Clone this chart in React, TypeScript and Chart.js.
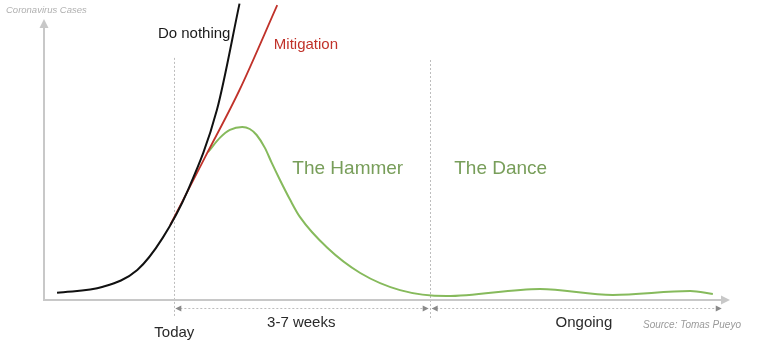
import React, { useEffect, useRef } from "react";
import { Chart, registerables } from "chart.js";

Chart.register(...registerables);

// ---- Data (conceptual units: x 0..100 time, y 0..100 cases) ----
const doNothingX = [1.9, 8.6, 13.6, 17.3, 21.0, 25.2, 28.5];
const doNothingY = [2.4, 4.4, 10.0, 20.7, 36.7, 63.3, 98.8];

const mitigationX = [18.4, 23.5, 28.5, 34.0];
const mitigationY = [25.0, 47.7, 70.0, 98.3];

const hammerDanceX = [23.9, 25.7, 27.1, 28.9, 30.0, 31.0, 32.2, 33.2, 34.4, 35.9, 37.3, 41.3, 46.1, 51.9, 58.7, 72.3, 82.9, 94.2, 97.5];
const hammerDanceY = [49.3, 54.2, 56.7, 57.7, 57.0, 55.0, 50.7, 45.7, 40.0, 33.3, 27.7, 17.4, 9.0, 3.3, 1.3, 3.7, 1.7, 3.0, 2.0];

const seriesNames = ["Do nothing", "Mitigation", "The Hammer / The Dance"];
const phaseLabels = ["The Hammer", "The Dance"];
const periodLabels = ["Today", "3-7 weeks", "Ongoing"];
const yAxisTitle = "Coronavirus Cases";
const sourceText = "Source: Tomas Pueyo";

// phase boundaries (x units)
const todayX = 19.0;
const danceStartX = 56.3;
const ongoingEndX = 98.8;

const BLACK = "#111111";
const RED = "#c0322a";
const GREEN = "#86ba5c";
const GREEN_TEXT = "#789e5a";
const AXIS = "#c8c8c8";
const FONT = "'Liberation Sans', Arial, Helvetica, sans-serif";

export default function App() {
  const ref = useRef<HTMLCanvasElement>(null);

  useEffect(() => {
    if (!ref.current) return;
    const pts = (xs: number[], ys: number[]) => xs.map((x, i) => ({ x, y: ys[i] }));

    const tri = (ctx: CanvasRenderingContext2D, tx: number, ty: number, dir: string, len: number, half: number) => {
      ctx.beginPath();
      if (dir === "up") {
        ctx.moveTo(tx, ty);
        ctx.lineTo(tx - half, ty + len);
        ctx.lineTo(tx + half, ty + len);
      } else if (dir === "right") {
        ctx.moveTo(tx, ty);
        ctx.lineTo(tx - len, ty - half);
        ctx.lineTo(tx - len, ty + half);
      } else {
        ctx.moveTo(tx, ty);
        ctx.lineTo(tx + len, ty - half);
        ctx.lineTo(tx + len, ty + half);
      }
      ctx.closePath();
      ctx.fill();
    };

    const overlay = {
      id: "overlay",
      beforeDatasetsDraw(chart: any) {
        const ctx: CanvasRenderingContext2D = chart.ctx;
        const xs = chart.scales.x;
        const ys = chart.scales.y;
        ctx.save();
        // vertical dashed markers
        ctx.strokeStyle = "#bdbdbd";
        ctx.lineWidth = 1;
        ctx.setLineDash([2, 2]);
        [todayX, danceStartX].forEach((v, i) => {
          const px = Math.round(xs.getPixelForValue(v)) + 0.5;
          ctx.beginPath();
          ctx.moveTo(px, ys.getPixelForValue(i === 0 ? 80.7 : 80));
          ctx.lineTo(px, ys.getPixelForValue(i === 0 ? -5.3 : -6));
          ctx.stroke();
        });
        // period dotted line
        const py = Math.round(ys.getPixelForValue(-2.8)) + 0.5;
        const a = xs.getPixelForValue(todayX);
        const b = xs.getPixelForValue(danceStartX);
        const c = xs.getPixelForValue(ongoingEndX);
        ctx.strokeStyle = "#bdbdbd";
        ctx.beginPath();
        ctx.moveTo(a + 2, py);
        ctx.lineTo(b - 2, py);
        ctx.moveTo(b + 2, py);
        ctx.lineTo(c - 2, py);
        ctx.stroke();
        ctx.setLineDash([]);
        ctx.fillStyle = "#8a8a8a";
        tri(ctx, a + 1, py, "left", 6, 3);
        tri(ctx, b - 1.5, py, "right", 6, 3);
        tri(ctx, b + 1.5, py, "left", 6, 3);
        tri(ctx, c, py, "right", 6, 3);
        // axes
        const x0 = xs.getPixelForValue(0);
        const y0 = ys.getPixelForValue(0);
        const yTop = ys.getPixelForValue(93.7);
        const xEnd = xs.getPixelForValue(100);
        ctx.strokeStyle = AXIS;
        ctx.lineWidth = 2;
        ctx.beginPath();
        ctx.moveTo(x0, yTop + 8);
        ctx.lineTo(x0, y0);
        ctx.lineTo(xEnd - 8, y0);
        ctx.stroke();
        ctx.fillStyle = AXIS;
        tri(ctx, x0, yTop, "up", 9, 4.5);
        tri(ctx, xEnd, y0, "right", 9, 4.5);
        ctx.restore();
      },
      afterDatasetsDraw(chart: any) {
        const ctx: CanvasRenderingContext2D = chart.ctx;
        const xs = chart.scales.x;
        const ys = chart.scales.y;
        const X = (v: number) => xs.getPixelForValue(v);
        const Y = (v: number) => ys.getPixelForValue(v);
        ctx.save();
        ctx.textBaseline = "alphabetic";
        // curve labels
        ctx.textAlign = "left";
        ctx.font = `15px ${FONT}`;
        ctx.fillStyle = "#1a1a1a";
        ctx.fillText(seriesNames[0], X(16.6), Y(87.3));
        ctx.fillStyle = RED;
        ctx.fillText(seriesNames[1], X(33.5), Y(83.7));
        // phase labels
        ctx.font = `19px ${FONT}`;
        ctx.fillStyle = GREEN_TEXT;
        ctx.fillText(phaseLabels[0], X(36.2), Y(42));
        ctx.fillText(phaseLabels[1], X(59.8), Y(42));
        // period labels
        ctx.textAlign = "center";
        ctx.font = `15px ${FONT}`;
        ctx.fillStyle = "#2a2a2a";
        ctx.fillText(periodLabels[0], X(todayX), Y(-12.3));
        ctx.fillText(periodLabels[1], X(37.5), Y(-9));
        ctx.fillText(periodLabels[2], X(78.7), Y(-9));
        // source & axis title
        ctx.font = `italic 10px ${FONT}`;
        ctx.fillStyle = "#9a9a9a";
        ctx.textAlign = "right";
        ctx.fillText(sourceText, X(101.6), Y(-9.3));
        ctx.font = `italic 9.5px ${FONT}`;
        ctx.fillStyle = "#b0b0b0";
        ctx.textAlign = "left";
        ctx.fillText(yAxisTitle, 6, 13);
        ctx.restore();
      },
    };

    const common = { pointRadius: 0, fill: false, cubicInterpolationMode: "monotone" };

    const chart = new Chart(ref.current, {
      type: "line",
      data: {
        datasets: [
          { label: seriesNames[0], data: pts(doNothingX, doNothingY), borderColor: BLACK, borderWidth: 2, ...common },
          { label: seriesNames[1], data: pts(mitigationX, mitigationY), borderColor: RED, borderWidth: 1.8, ...common },
          { label: seriesNames[2], data: pts(hammerDanceX, hammerDanceY), borderColor: GREEN, borderWidth: 2, ...common },
        ],
      },
      options: {
        responsive: false,
        animation: false,
        devicePixelRatio: 1,
        layout: { padding: { left: 44, right: 28, top: 0, bottom: 48 } },
        plugins: { legend: { display: false }, tooltip: { enabled: false }, title: { display: false } },
        scales: {
          x: { type: "linear", min: 0, max: 100, display: false },
          y: { type: "linear", min: 0, max: 100, display: false },
        },
      },
      plugins: [overlay],
    } as any);
    return () => chart.destroy();
  }, []);

  return (
    <div style={{ position: "fixed", left: 0, top: 0, width: 758, height: 348, background: "#fff" }}>
      <canvas ref={ref} width={758} height={348} style={{ display: "block", width: 758, height: 348 }} />
    </div>
  );
}
